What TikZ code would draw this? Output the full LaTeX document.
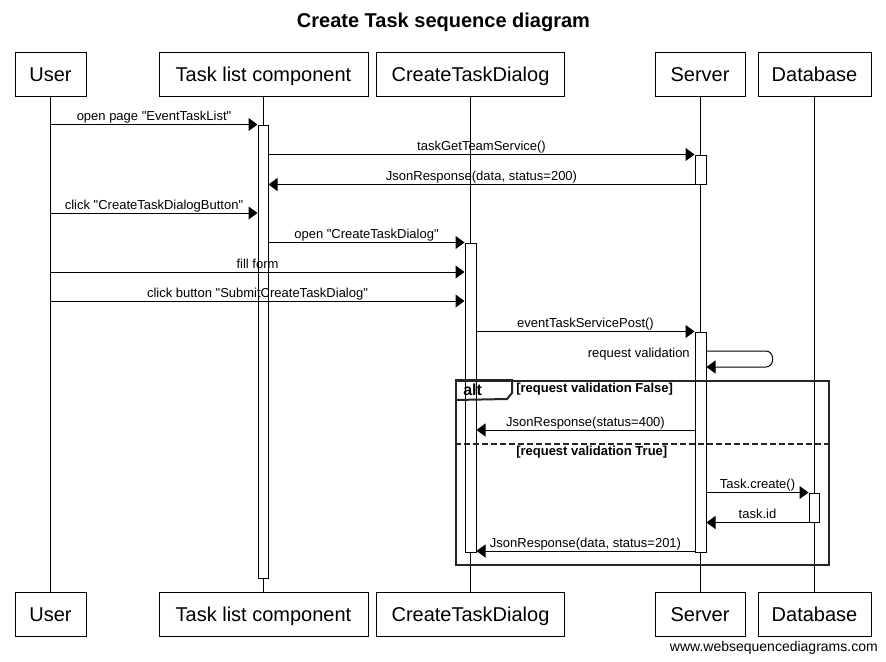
\documentclass[tikz,border=0pt]{standalone}
\usepackage{fontspec}
\setmainfont{Liberation Sans}[Ligatures=TeXOff]
\usetikzlibrary{arrows.meta,fit}

\tikzset{
  actor/.style={draw, line width=0.75pt, minimum height=33pt, inner sep=0pt,
    text height=11pt, text depth=0.5pt, font=\fontsize{15}{18}\selectfont},
  act/.style={draw, fill=white, line width=0.75pt, inner sep=0pt},
  msg/.style={line width=0.75pt, -{Triangle[length=6.75pt, width=9.75pt]}},
  lbl/.style={midway, anchor=base, yshift=3pt, inner sep=0pt,
    font=\fontsize{9.75}{11}\selectfont},
  frame/.style={draw=black!85, line width=1.5pt, inner sep=0pt},
  guard/.style={anchor=base west, inner sep=0pt,
    font=\fontsize{9.75}{11}\selectfont\bfseries}
}

\begin{document}
\begin{tikzpicture}[x=0.75pt, y=-0.75pt]
\useasboundingbox (0,0) rectangle (886,661);

\node[anchor=base, font=\fontsize{15}{18}\selectfont\bfseries](title)
    at(443.5,27){Create Task sequence diagram};

% participants
\node[actor, minimum width=53.25pt](userTop)at(50.5,74){User};
\node[actor, minimum width=156.75pt](tlTop)at(263.5,74){Task list component};
\node[actor, minimum width=141pt](ctdTop)at(470.5,74){CreateTaskDialog};
\node[actor, minimum width=67.5pt](srvTop)at(700,74){Server};
\node[actor, minimum width=84.75pt](dbTop)at(814.5,74){Database};

\node[actor, minimum width=53.25pt](userBot)at(50.5,614){User};
\node[actor, minimum width=156.75pt](tlBot)at(263.5,614){Task list component};
\node[actor, minimum width=141pt](ctdBot)at(470.5,614){CreateTaskDialog};
\node[actor, minimum width=67.5pt](srvBot)at(700,614){Server};
\node[actor, minimum width=84.75pt](dbBot)at(814.5,614){Database};

% lifelines
\draw[line width=0.75pt](userTop.south)--(userBot.north);
\draw[line width=0.75pt](tlTop.south)--(tlBot.north);
\draw[line width=0.75pt](ctdTop.south)--(ctdBot.north);
\draw[line width=0.75pt](srvTop.south)--(srvBot.north);
\draw[line width=0.75pt](dbTop.south)--(dbBot.north);

% activations
\node[act, fit={(258,125) (268,578)}](tlAct){};
\node[act, fit={(465,243) (476,552)}](ctdAct){};
\node[act, fit={(695,155) (706,184)}](srvAct1){};
\node[act, fit={(695,332) (706,552)}](srvAct2){};
\node[act, fit={(809,493) (819,522)}](dbAct){};

% messages
\draw[msg](userTop.south |- tlAct.north)--(tlAct.north west)
    node[lbl]{open page "EventTaskList"};
\draw[msg](tlAct.east |- srvAct1.north)--(srvAct1.north west)
    node[lbl]{taskGetTeamService()};
\draw[msg](srvAct1.south west)--(tlAct.east |- srvAct1.south)
    node[lbl]{JsonResponse(data, status=200)};
\draw[msg](userTop.south |- 0,213)--(tlAct.west |- 0,213)
    node[lbl]{click "CreateTaskDialogButton"};
\draw[msg](tlAct.east |- ctdAct.north)--(ctdAct.north west)
    node[lbl]{open "CreateTaskDialog"};
\draw[msg](userTop.south |- 0,272)--(ctdAct.west |- 0,272)
    node[lbl]{fill form};
\draw[msg](userTop.south |- 0,301)--(ctdAct.west |- 0,301)
    node[lbl]{click button "SubmitCreateTaskDialog"};
\draw[msg](ctdAct.east |- srvAct2.north)--(srvAct2.north west)
    node[lbl]{eventTaskServicePost()};
\draw[msg, rounded corners=5pt](srvAct2.east |- 0,351)-|++(66,16)
    --(srvAct2.east |- 0,367);
\node[anchor=base east, inner sep=0pt, font=\fontsize{9.75}{11}\selectfont]
    (selfLbl)at(690,357){request validation};
\draw[msg](srvAct2.west |- 0,430)--(ctdAct.east |- 0,430)
    node[lbl]{JsonResponse(status=400)};
\draw[msg](srvAct2.east |- dbAct.north)--(dbAct.north west)
    node[lbl]{Task.create()};
\draw[msg](dbAct.south west)--(srvAct2.east |- dbAct.south)
    node[lbl]{task.id};
\draw[msg](srvAct2.west |- 0,551)--(ctdAct.east |- 0,551)
    node[lbl]{JsonResponse(data, status=201)};

% alt frame
\node[frame, fit={(456,381) (829,565)}](altBox){};
\draw[frame](altBox.north west)--++(57,0)--++(0,13)--++(-5,6)
    --(altBox.west |- 0,400);
\node[anchor=base west, inner sep=0pt, font=\fontsize{12}{14}\selectfont\bfseries]
    (altLbl)at(463,395){alt};
\node[guard](guardF)at(516,392){[request validation False]};
\draw[frame, dash pattern=on 4.5pt off 2.25pt](altBox.west |- 0,444)
    --(altBox.east |- 0,444);
\node[guard](guardT)at(516,455){[request validation True]};

\node[anchor=base east, inner sep=0pt, font=\fontsize{10.5}{12}\selectfont]
    (wsd)at(878,651){www.websequencediagrams.com};
\end{tikzpicture}
\end{document}
